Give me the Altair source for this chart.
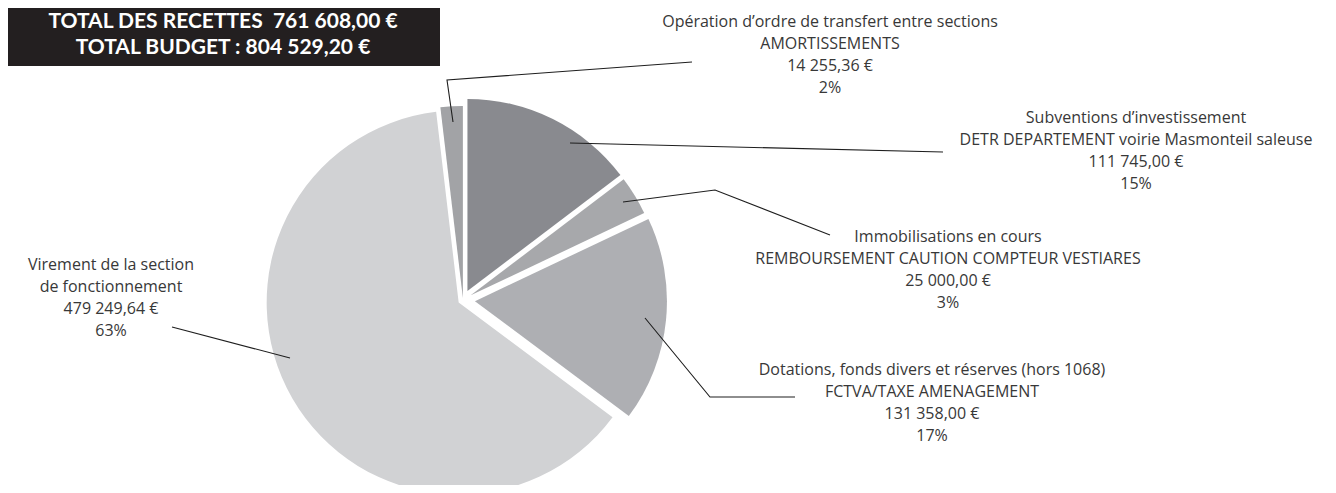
import math
import altair as alt
import pandas as pd

# ---- data ----
categories = [
    "Subventions d’investissement",
    "Immobilisations en cours",
    "Dotations, fonds divers et réserves (hors 1068)",
    "Virement de la section\nde fonctionnement",
    "Opération d’ordre de transfert entre sections",
]
details = [
    "DETR DEPARTEMENT voirie Masmonteil saleuse",
    "REMBOURSEMENT CAUTION COMPTEUR VESTIARES",
    "FCTVA/TAXE AMENAGEMENT",
    "",
    "AMORTISSEMENTS",
]
values = [111745.00, 25000.00, 131358.00, 479249.64, 14255.36]
title_lines = ["TOTAL DES RECETTES \u00a0761 608,00 €", "TOTAL BUDGET : 804 529,20 €"]

# ---- styles / layout (chart pixel coordinates) ----
colors = ["#898a8f", "#a7a8ab", "#aeafb3", "#d1d2d4", "#a2a3a6"]
explode = [10, 9, 12, 5, 2]
W, H = 1320, 477
CX, CY, R = 455, 292, 192
label_pos = [(1128, 110), (940, 229), (924, 362), (103, 257), (822, 14)]
leaders = [
    [(562, 135), (935, 144)],
    [(615, 194), (707, 182), (822, 227)],
    [(637, 310), (702, 389), (787, 389)],
    [(164, 319), (282, 350)],
    [(445, 114), (439, 72), (684, 54)],
]
LINE_H = 22

total = sum(values)


def fr_money(v):
    s = f"{v:,.2f}"
    return s.replace(",", " ").replace(".", ",") + " €"


df = pd.DataFrame({
    "category": categories,
    "value": values,
    "order": list(range(len(values))),
    "ex": explode,
})

xs = alt.Scale(domain=[0, W], range=[0, W], zero=False, nice=False)
ys = alt.Scale(domain=[0, H], range=[0, H], zero=False, nice=False)

base = (
    alt.Chart(df)
    .transform_window(cum="sum(value)", sort=[alt.SortField("order")], frame=[None, 0])
    .transform_calculate(
        start="datum.cum - datum.value",
        mid=f"(datum.cum - datum.value / 2) / {total} * 2 * PI",
    )
    .transform_calculate(
        cx=f"{CX} + datum.ex * sin(datum.mid)",
        cy=f"{CY} - datum.ex * cos(datum.mid)",
    )
)

arcs = base.mark_arc(radius=R, strokeWidth=0).encode(
    theta=alt.Theta("start:Q", scale=alt.Scale(domain=[0, total], range=[0, 2 * math.pi]), stack=None),
    theta2="cum:Q",
    x=alt.X("cx:Q", scale=xs, axis=None),
    y=alt.Y("cy:Q", scale=ys, axis=None),
    color=alt.Color("category:N", scale=alt.Scale(domain=categories, range=colors), legend=None),
)

# leader lines
lrows = []
for i, pts in enumerate(leaders):
    for j, (px, py) in enumerate(pts):
        lrows.append({"cat": categories[i], "k": j, "px": px, "py": py})
leader_df = pd.DataFrame(lrows)
lines = alt.Chart(leader_df).mark_line(color="#1e1e1e", strokeWidth=1.1).encode(
    x=alt.X("px:Q", scale=xs, axis=None),
    y=alt.Y("py:Q", scale=ys, axis=None),
    detail="cat:N",
    order="k:Q",
)

# labels
trows = []
for i, cat in enumerate(categories):
    ls = cat.split("\n")
    if details[i]:
        ls.append(details[i])
    ls.append(fr_money(values[i]))
    ls.append(f"{round(values[i] / total * 100)}%")
    x0, y0 = label_pos[i]
    for j, t in enumerate(ls):
        trows.append({"t": t, "tx": x0, "ty": y0 + j * LINE_H})
text_df = pd.DataFrame(trows)
labels = alt.Chart(text_df).mark_text(
    font="Open Sans", fontSize=16, color="#383838", align="center", baseline="middle"
).encode(
    x=alt.X("tx:Q", scale=xs, axis=None),
    y=alt.Y("ty:Q", scale=ys, axis=None),
    text="t:N",
)

# title box
box = alt.Chart(pd.DataFrame({"a": [0]})).mark_rect(color="#231f20").encode(
    x=alt.value(0), x2=alt.value(432), y=alt.value(0), y2=alt.value(58)
)
title_df = pd.DataFrame({"t": title_lines, "tx": [215, 215], "ty": [14, 40]})
title_txt = alt.Chart(title_df).mark_text(
    font="Lato", fontSize=21, fontWeight="bold", color="white", align="center", baseline="middle"
).encode(
    x=alt.X("tx:Q", scale=xs, axis=None),
    y=alt.Y("ty:Q", scale=ys, axis=None),
    text="t:N",
)

chart = (
    alt.layer(arcs, lines, labels, box, title_txt)
    .properties(width=W, height=H, padding=0, autosize=alt.AutoSizeParams(type="none"))
    .configure_view(stroke=None)
)

chart.save("out.html", embed_options={"renderer": "svg", "actions": False})
